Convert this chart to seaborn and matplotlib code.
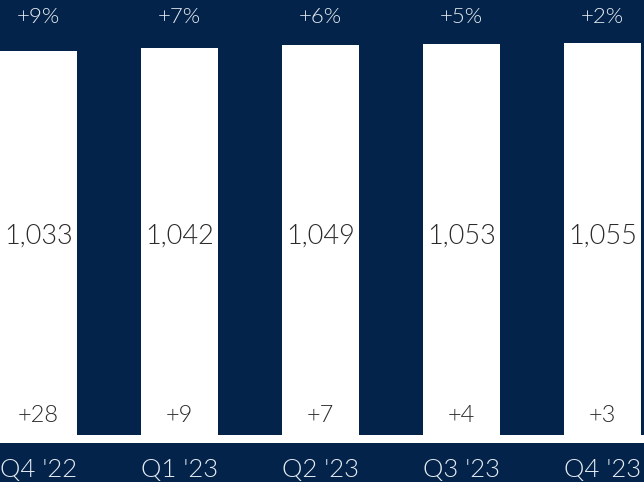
import matplotlib
matplotlib.use("Agg")
import matplotlib.pyplot as plt
import matplotlib.transforms as mtransforms
import seaborn as sns
import pandas as pd

quarters = ["Q4 '22", "Q1 '23", "Q2 '23", "Q3 '23", "Q4 '23"]
values = [1033, 1042, 1049, 1053, 1055]
value_labels = ["1,033", "1,042", "1,049", "1,053", "1,055"]
growth_pct = ["+9%", "+7%", "+6%", "+5%", "+2%"]
net_adds = ["+28", "+9", "+7", "+4", "+3"]

NAVY = "#03234a"
sns.set_theme(style="white")
plt.rcParams["font.family"] = ["Lato", "DejaVu Sans"]

df = pd.DataFrame({"quarter": quarters, "value": values})

fig = plt.figure(figsize=(6.44, 4.82), dpi=100, facecolor=NAVY)
ax = fig.add_axes([0, 39 / 482, 1, 443 / 482])
ax.set_facecolor(NAVY)

sns.barplot(data=df, x="quarter", y="value", color="white", saturation=1,
            width=0.546, edgecolor="none", linewidth=0, ax=ax)

ax.set_xlim(-0.273, 4.294)
ax.set_ylim(-21.5, 1170.7)
ax.axhspan(-21.5, 0, color="white", lw=0, zorder=0.5)

for s in ax.spines.values():
    s.set_visible(False)
ax.set_yticks([])
ax.set_xlabel("")
ax.set_ylabel("")
ax.tick_params(axis="x", length=0, pad=11, labelsize=18.5, labelcolor="#e6ecf3")
for lbl in ax.get_xticklabels():
    lbl.set_fontweight(300)

trans = mtransforms.blended_transform_factory(ax.transData, ax.transAxes)
for i in range(len(quarters)):
    ax.text(i, 1 - 17 / 443, growth_pct[i], transform=trans, ha="center", va="center",
            fontsize=16, color="#e6ecf3", fontweight=300)
    ax.text(i, 1 - 236 / 443, value_labels[i], transform=trans, ha="center", va="center",
            fontsize=19.5, color="#2b2b2b", fontweight=300)
    ax.text(i, 1 - 415 / 443, net_adds[i], transform=trans, ha="center", va="center",
            fontsize=17, color="#2b2b2b", fontweight=300)

fig.savefig("out.png", dpi=100, facecolor=NAVY)
